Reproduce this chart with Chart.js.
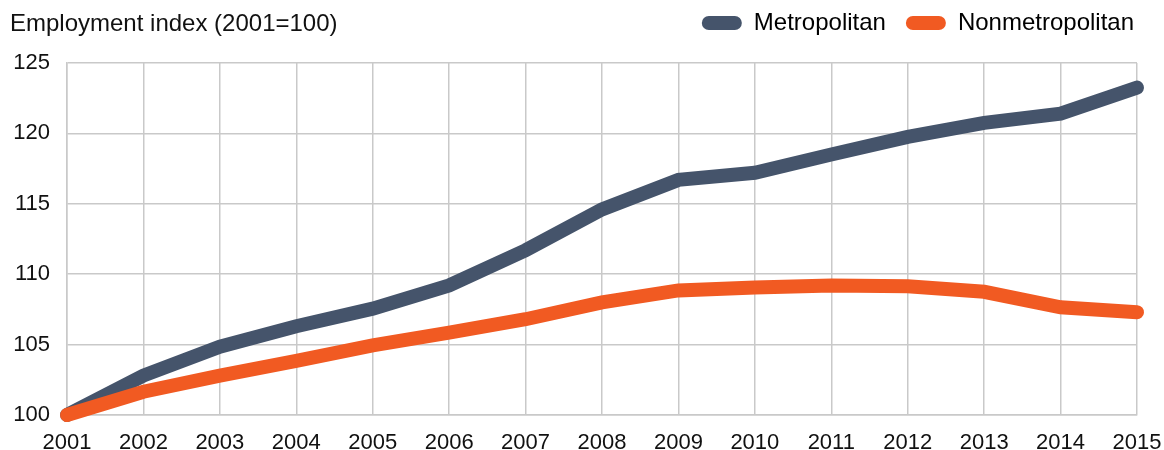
<!DOCTYPE html>
<html>
<head>
<meta charset="utf-8">
<script src="https://cdn.jsdelivr.net/npm/chart.js@4/dist/chart.umd.min.js"></script>
<style>
  html, body { margin: 0; padding: 0; background: #ffffff; }
  #wrap { width: 1164px; height: 450px; }
</style>
</head>
<body>
<div id="wrap"><canvas id="c" width="1164" height="450"></canvas></div>
<script>
const years = ['2001','2002','2003','2004','2005','2006','2007','2008','2009','2010','2011','2012','2013','2014','2015'];
const metropolitan = [100, 102.8, 104.85, 106.3, 107.55, 109.2, 111.7, 114.6, 116.7, 117.2, 118.5, 119.75, 120.75, 121.4, 123.25];
const nonmetropolitan = [100, 101.65, 102.8, 103.85, 104.95, 105.85, 106.8, 108.0, 108.85, 109.05, 109.2, 109.15, 108.75, 107.65, 107.3];
const yTicks = [100, 105, 110, 115, 120, 125];
const titleText = 'Employment index (2001=100)';
const seriesNames = ['Metropolitan', 'Nonmetropolitan'];
const seriesColors = ['#45546b', '#f15a22'];

const FONT = '"Liberation Sans", Arial, Helvetica, sans-serif';
const GRID = '#c9c9c9';
const PLOT_TOP = 63;

const titlePlugin = {
  id: 'titleText',
  beforeUpdate(chart) {
    const lg = chart.legend;
    if (lg && !lg._fixedFit) {
      const origFit = lg.fit.bind(lg);
      lg.fit = function () { origFit(); this.height = PLOT_TOP; };
      lg._fixedFit = true;
    }
  },
  afterLayout(chart) {
    const lg = chart.legend;
    if (lg) {
      lg.top -= 9; lg.bottom -= 9;
      lg.left += 17; lg.right += 17;
    }
  },
  afterDraw(chart) {
    const ctx = chart.ctx;
    ctx.save();
    ctx.font = '24px ' + FONT;
    ctx.fillStyle = '#111111';
    ctx.textBaseline = 'alphabetic';
    ctx.textAlign = 'left';
    ctx.fillText(titleText, 10, 31);
    ctx.restore();
  }
};

new Chart(document.getElementById('c'), {
  type: 'line',
  data: {
    labels: years,
    datasets: [
      {
        label: seriesNames[0],
        data: metropolitan,
        borderColor: seriesColors[0],
        backgroundColor: seriesColors[0],
        borderWidth: 14,
        pointRadius: 0,
        tension: 0,
        fill: false,
        clip: false,
        borderCapStyle: 'round',
        borderJoinStyle: 'miter',
        order: 1
      },
      {
        label: seriesNames[1],
        data: nonmetropolitan,
        borderColor: seriesColors[1],
        backgroundColor: seriesColors[1],
        borderWidth: 14,
        pointRadius: 0,
        tension: 0,
        fill: false,
        clip: false,
        borderCapStyle: 'round',
        borderJoinStyle: 'miter',
        order: 0
      }
    ]
  },
  options: {
    responsive: false,
    animation: false,
    devicePixelRatio: 1,
    layout: { padding: { left: 10, right: 27, top: 0, bottom: 0 } },
    plugins: {
      tooltip: { enabled: false },
      title: { display: false },
      legend: {
        display: true,
        position: 'top',
        align: 'end',
        labels: {
          color: '#111111',
          font: { family: FONT, size: 24 },
          boxWidth: 40,
          boxHeight: 14,
          useBorderRadius: true,
          borderRadius: 7,
          padding: 20,
          generateLabels(chart) {
            return chart.data.datasets.map((ds, i) => ({
              text: ds.label,
              fillStyle: ds.borderColor,
              strokeStyle: ds.borderColor,
              lineWidth: 0,
              hidden: false,
              borderRadius: 7,
              datasetIndex: i
            }));
          }
        }
      }
    },
    scales: {
      x: {
        type: 'category',
        offset: false,
        grid: { color: GRID, lineWidth: 1.5, drawTicks: false },
        border: { color: GRID, width: 1.5 },
        ticks: {
          color: '#111111',
          font: { family: FONT, size: 22 },
          padding: 15,
          maxRotation: 0,
          autoSkip: false
        },
        afterFit(scale) { scale.height = 35; scale.paddingLeft = 0; scale.paddingRight = 0; }
      },
      y: {
        min: 100,
        max: 125,
        afterBuildTicks(scale) { scale.ticks = yTicks.map(v => ({ value: v })); },
        grid: { color: GRID, lineWidth: 1.5, drawTicks: false },
        border: { color: GRID, width: 1.5 },
        ticks: {
          color: '#111111',
          font: { family: FONT, size: 22 },
          padding: 17
        },
        afterFit(scale) { scale.width = 57; scale.paddingTop = 0; scale.paddingBottom = 0; }
      }
    }
  },
  plugins: [titlePlugin]
});
</script>
</body>
</html>
